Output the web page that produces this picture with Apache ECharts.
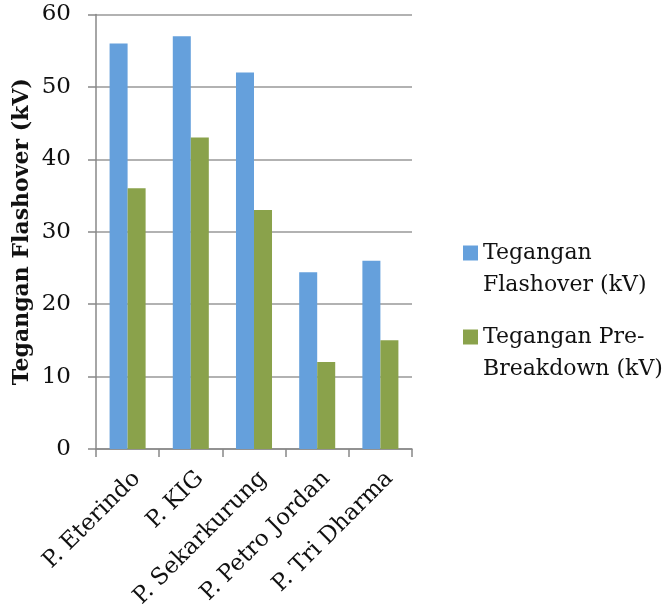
<!DOCTYPE html>
<html>
<head>
<meta charset="utf-8">
<script src="https://cdn.jsdelivr.net/npm/echarts@6/dist/echarts.min.js"></script>
<style>html,body{margin:0;padding:0;background:#fff}#c{width:672px;height:612px}</style>
</head>
<body>
<div id="c"></div>
<script>
const categories = ['P. Eterindo', 'P. KIG', 'P. Sekarkurung', 'P. Petro Jordan', 'P. Tri Dharma'];
const flashover = [56, 57, 52, 24.4, 26];
const preBreakdown = [36, 43, 33, 12, 15];
const seriesNames = ['Tegangan Flashover (kV)', 'Tegangan Pre-Breakdown (kV)'];
const legendLabels = ['\nTegangan\nFlashover (kV)', '\nTegangan Pre-\nBreakdown (kV)'];
const yTicks = [0, 10, 20, 30, 40, 50, 60];

const FONT = 'DejaVu Serif';
const chart = echarts.init(document.getElementById('c'), null, {renderer: 'canvas'});
chart.setOption({
  animation: false,
  textStyle: {fontFamily: FONT},
  grid: {left: 96, right: 260, top: 14.5, bottom: 612 - 450.7, containLabel: false},
  legend: {
    orient: 'vertical',
    left: 458, top: 200,
    itemWidth: 15, itemHeight: 15, itemGap: -12,
    icon: 'rect',
    formatter: function (n) { return legendLabels[seriesNames.indexOf(n)]; },
    textStyle: {fontFamily: FONT, fontSize: 22, color: '#111', lineHeight: 32}
  },
  xAxis: {
    type: 'category',
    data: categories,
    axisLine: {lineStyle: {color: '#888', width: 1.5}},
    axisTick: {show: true, length: 8, lineStyle: {color: '#888', width: 1.5}},
    axisLabel: {rotate: 45, fontFamily: FONT, fontSize: 23, color: '#111', margin: 17, interval: 0,
      verticalAlign: 'top', lineHeight: 26}
  },
  yAxis: {
    type: 'value',
    min: 0, max: 60, interval: 10,
    name: 'Tegangan Flashover (kV)',
    nameLocation: 'middle',
    nameGap: 63,
    nameTextStyle: {fontFamily: FONT, fontSize: 22, fontWeight: 'bold', color: '#111'},
    axisLine: {show: true, lineStyle: {color: '#888', width: 1.5}},
    axisTick: {show: true, length: 8, lineStyle: {color: '#888', width: 1.5}},
    axisLabel: {fontFamily: FONT, fontSize: 23, color: '#111', margin: 25,
      formatter: function (v) { return yTicks.indexOf(v) >= 0 ? String(v) : ''; }},
    splitLine: {lineStyle: {color: '#999', width: 1.5}}
  },
  series: [
    {name: seriesNames[0], type: 'bar', data: flashover, itemStyle: {color: '#65a0dc'},
     barGap: '0%', barCategoryGap: '43%'},
    {name: seriesNames[1], type: 'bar', data: preBreakdown, itemStyle: {color: '#8aa24b'},
     barGap: '0%', barCategoryGap: '43%'}
  ]
});
</script>
</body>
</html>
